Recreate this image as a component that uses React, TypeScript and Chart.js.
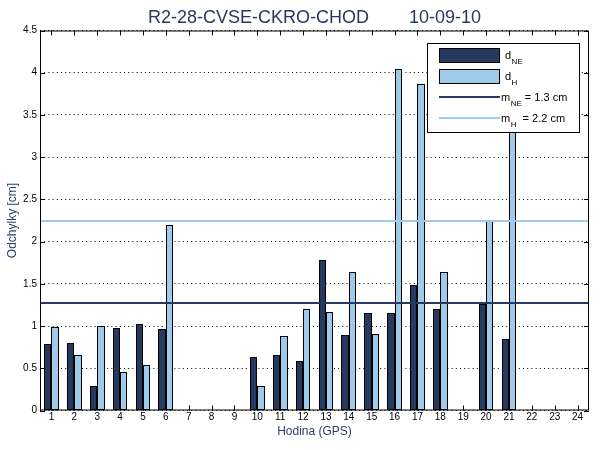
import React, { useEffect, useRef } from "react";
import { Chart, registerables } from "chart.js";

Chart.register(...registerables);

const hours = [
  "1", "2", "3", "4", "5", "6", "7", "8", "9", "10", "11", "12",
  "13", "14", "15", "16", "17", "18", "19", "20", "21", "22", "23", "24",
];
const dNE = [
  0.79, 0.8, 0.29, 0.98, 1.03, 0.97, null, null, null, 0.63, 0.66, 0.59,
  1.78, 0.89, 1.15, 1.15, 1.49, 1.2, null, 1.26, 0.85, null, null, null,
];
const dH = [
  0.99, 0.66, 1.0, 0.46, 0.54, 2.2, null, null, null, 0.29, 0.88, 1.2,
  1.17, 1.64, 0.91, 4.04, 3.87, 1.64, null, 2.24, 3.6, null, null, null,
];
const meanNE = 1.27;
const meanH = 2.25;
const yTickValues = [0, 0.5, 1, 1.5, 2, 2.5, 3, 3.5, 4, 4.5];
const titleText = "R2-28-CVSE-CKRO-CHOD        10-09-10";
const xTitle = "Hodina (GPS)";
const yTitle = "Odchylky [cm]";
const legendMain = ["d", "d", "m", "m"];
const legendSub = ["NE", "H", "NE", "H"];
const legendRest = ["", "", " = 1.3 cm", "  = 2.2 cm"];

const NAVY = "#253a5e";
const LIGHT = "#9ecbe9";
const TEXTBLUE = "#2a3f6e";
const FONT = "'Liberation Sans', Arial, Helvetica, sans-serif";

const crispBars = {
  id: "crispBars",
  beforeDatasetsDraw(chart: any) {
    chart.data.datasets.forEach((_: any, di: number) => {
      const meta = chart.getDatasetMeta(di);
      meta.data.forEach((el: any) => {
        const l = Math.round(el.x - el.width / 2);
        const r = Math.round(el.x + el.width / 2);
        el.x = (l + r) / 2;
        el.width = r - l;
        el.y = Math.round(el.y);
        el.base = Math.round(el.base);
      });
    });
  },
};

const decorPlugin = {
  id: "decor",
  afterDatasetsDraw(chart: any) {
    const { ctx, chartArea: a, scales } = chart;
    const x = scales.x;
    const y = scales.y;
    ctx.save();
    const means: [number, string][] = [
      [meanNE, NAVY],
      [meanH, LIGHT],
    ];
    means.forEach(([v, c]) => {
      const py = Math.round(y.getPixelForValue(v));
      ctx.strokeStyle = c;
      ctx.lineWidth = 2;
      ctx.beginPath();
      ctx.moveTo(a.left, py);
      ctx.lineTo(a.right, py);
      ctx.stroke();
    });
    ctx.strokeStyle = "#000";
    ctx.lineWidth = 1;
    ctx.strokeRect(a.left + 0.5, a.top + 0.5, a.right - a.left - 1, a.bottom - a.top - 1);
    ctx.beginPath();
    hours.forEach((_, i) => {
      const px = Math.round(x.getPixelForValue(i)) + 0.5;
      ctx.moveTo(px, a.bottom);
      ctx.lineTo(px, a.bottom - 5);
      ctx.moveTo(px, a.top);
      ctx.lineTo(px, a.top + 5);
    });
    yTickValues.forEach((v) => {
      const py = Math.round(y.getPixelForValue(v)) + 0.5;
      ctx.moveTo(a.left, py);
      ctx.lineTo(a.left + 5, py);
      ctx.moveTo(a.right, py);
      ctx.lineTo(a.right - 5, py);
    });
    ctx.stroke();

    const bx = Math.round(a.right - 162);
    const by = Math.round(a.top + 12.5);
    const bw = 153;
    const bh = 90;
    ctx.fillStyle = "#fff";
    ctx.fillRect(bx, by, bw, bh);
    ctx.strokeStyle = "#000";
    ctx.strokeRect(bx + 0.5, by + 0.5, bw - 1, bh - 1);
    const sw: [number, string][] = [
      [by + 5, NAVY],
      [by + 26, LIGHT],
    ];
    sw.forEach(([sy, c]) => {
      ctx.fillStyle = c;
      ctx.fillRect(bx + 12, sy, 61, 15);
      ctx.strokeStyle = "#000";
      ctx.strokeRect(bx + 12.5, sy + 0.5, 60, 14);
    });
    const ly: [number, string][] = [
      [by + 54, NAVY],
      [by + 75, LIGHT],
    ];
    ly.forEach(([yy, c]) => {
      ctx.strokeStyle = c;
      ctx.lineWidth = 2;
      ctx.beginPath();
      ctx.moveTo(bx + 12, yy);
      ctx.lineTo(bx + 73, yy);
      ctx.stroke();
    });
    ctx.fillStyle = "#000";
    ctx.textBaseline = "alphabetic";
    ctx.textAlign = "left";
    const baselines = [by + 15.5, by + 37, by + 58, by + 79];
    const xs = [bx + 78, bx + 78, bx + 74, bx + 74];
    legendMain.forEach((m, i) => {
      ctx.font = `11px ${FONT}`;
      ctx.fillText(m, xs[i], baselines[i]);
      let w = ctx.measureText(m).width;
      ctx.font = `8px ${FONT}`;
      ctx.fillText(legendSub[i], xs[i] + w + 0.5, baselines[i] + 5);
      w += 0.5 + ctx.measureText(legendSub[i]).width;
      if (legendRest[i]) {
        ctx.font = `11px ${FONT}`;
        ctx.fillText(legendRest[i], xs[i] + w, baselines[i]);
      }
    });
    ctx.restore();
  },
};

export default function App() {
  const ref = useRef<HTMLCanvasElement | null>(null);
  useEffect(() => {
    if (!ref.current) return;
    const chart = new Chart(ref.current, {
      type: "bar",
      data: {
        labels: hours,
        datasets: [
          {
            label: "dNE",
            data: dNE,
            backgroundColor: NAVY,
            borderColor: "#000",
            borderWidth: 1,
            borderSkipped: false,
            barPercentage: 1,
            categoryPercentage: 0.64,
          },
          {
            label: "dH",
            data: dH,
            backgroundColor: LIGHT,
            borderColor: "#000",
            borderWidth: 1,
            borderSkipped: false,
            barPercentage: 1,
            categoryPercentage: 0.64,
          },
        ],
      },
      options: {
        responsive: false,
        animation: false,
        devicePixelRatio: 1,
        layout: { padding: { top: 0, right: 11, bottom: 0, left: 0 } },
        plugins: {
          legend: { display: false },
          tooltip: { enabled: false },
          title: {
            display: true,
            text: titleText,
            fullSize: false,
            color: NAVY,
            font: { family: FONT, size: 18, weight: "normal" },
            padding: { top: 7, bottom: 1.9 },
          },
        },
        scales: {
          x: {
            grid: { display: false, drawTicks: false },
            border: { display: false },
            ticks: {
              color: "#000",
              font: { family: FONT, size: 10 },
              padding: 1,
              maxRotation: 0,
              autoSkip: false,
            },
            title: {
              display: true,
              text: xTitle,
              color: TEXTBLUE,
              font: { family: FONT, size: 12 },
              padding: { top: 0, bottom: 10.8 },
            },
            afterFit: (s: any) => {
              s.height = 39.5;
            },
          },
          y: {
            min: 0,
            max: 4.5,
            grid: { color: "#000", lineWidth: 1, drawTicks: false },
            border: { display: false, dash: [1, 3.2] },
            ticks: {
              stepSize: 0.5,
              color: "#000",
              font: { family: FONT, size: 10 },
              padding: 3,
              callback: (v: any) => String(Number(v)),
            },
            title: {
              display: true,
              text: yTitle,
              color: TEXTBLUE,
              font: { family: FONT, size: 12 },
              padding: { top: 5, bottom: 0 },
            },
            afterFit: (s: any) => {
              s.width = 40;
            },
          },
        },
      },
      plugins: [crispBars, decorPlugin],
    } as any);
    return () => chart.destroy();
  }, []);
  return (
    <div style={{ position: "absolute", left: 0, top: 0, width: 600, height: 450, background: "#fff" }}>
      <canvas ref={ref} width={600} height={450} />
    </div>
  );
}
